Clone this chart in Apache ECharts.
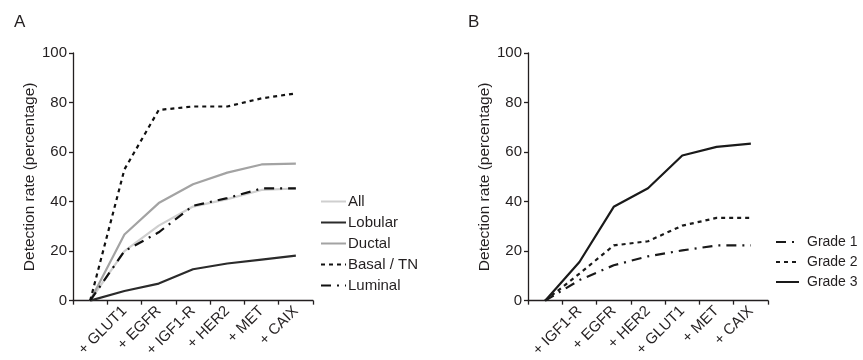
<!DOCTYPE html>
<html>
<head>
<meta charset="utf-8">
<script src="https://cdn.jsdelivr.net/npm/echarts@6/dist/echarts.min.js"></script>
<style>
  html, body { margin: 0; padding: 0; background: #fff; }
  #chart { width: 863px; height: 360px; }
</style>
</head>
<body>
<div id="chart"></div>
<script>
// panel A categories (first slot is the baseline, no label)
const catsA = ['', '+ GLUT1', '+ EGFR', '+ IGF1-R', '+ HER2', '+ MET', '+ CAIX'];
const allA = [0, 20, 30.3, 38, 41, 44.7, 45.3];
const lobularA = [0, 3.9, 6.9, 12.7, 15, 16.6, 18.2];
const ductalA = [0, 26.7, 39.4, 47, 51.7, 55, 55.3];
const basalA = [0, 53, 77, 78.4, 78.4, 81.7, 83.7];
const luminalA = [0, 20, 27.6, 38.3, 41.4, 45.3, 45.3];

// panel B
const catsB = ['', '+ IGF1-R', '+ EGFR', '+ HER2', '+ GLUT1', '+ MET', '+ CAIX'];
const grade1 = [0, 8.3, 14.3, 17.9, 20.3, 22.3, 22.3];
const grade2 = [0, 10.9, 22.3, 24, 30.3, 33.4, 33.4];
const grade3 = [0, 15.6, 37.9, 45.4, 58.6, 62.1, 63.4];

const yTicks = [0, 20, 40, 60, 80, 100];

const font = "'Liberation Sans', Arial, sans-serif";
const ink = '#231f20';

const chart = echarts.init(document.getElementById('chart'));

function xAxisFor(idx, cats) {
    return {
        type: 'category',
        gridIndex: idx,
        data: cats,
        boundaryGap: true,
        axisLine: { lineStyle: { color: ink, width: 1.3 } },
        axisTick: { show: true, length: 4, inside: false, interval: 0, lineStyle: { color: ink, width: 1.3 } },
        axisLabel: { rotate: 45, interval: 0, margin: 8, color: ink, fontSize: 15, fontFamily: font },
        splitLine: { show: false }
    };
}

function yAxisFor(idx) {
    return {
        type: 'value',
        gridIndex: idx,
        min: yTicks[0],
        max: yTicks[yTicks.length - 1],
        interval: 20,
        name: 'Detection rate (percentage)',
        nameLocation: 'middle',
        nameGap: 35,
        nameTextStyle: { color: ink, fontSize: 15.5, fontFamily: font },
        axisLine: { show: true, lineStyle: { color: ink, width: 1.3 } },
        axisTick: { show: true, length: 4, lineStyle: { color: ink, width: 1.3 } },
        axisLabel: { color: ink, fontSize: 15, fontFamily: font, margin: 6 },
        splitLine: { show: false }
    };
}

function lineSeries(name, data, idx, color, type) {
    return {
        name: name,
        type: 'line',
        xAxisIndex: idx,
        yAxisIndex: idx,
        data: data,
        symbol: 'none',
        smooth: false,
        lineStyle: { color: color, width: 2.2, type: type },
        itemStyle: { color: color },
        emphasis: { disabled: true }
    };
}

const dotted = [4, 4];
const dashDot = [10, 6, 2, 6];

const option = {
    animation: false,
    backgroundColor: '#fff',
    title: [
        { text: 'A', left: 9, top: 9, textStyle: { fontSize: 17, fontWeight: 'normal', color: ink, fontFamily: font } },
        { text: 'B', left: 463, top: 9, textStyle: { fontSize: 17, fontWeight: 'normal', color: ink, fontFamily: font } }
    ],
    grid: [
        { left: 73, top: 53, width: 240, height: 249 },
        { left: 528, top: 53, width: 240, height: 249 }
    ],
    legend: [
        {
            data: ['All', 'Lobular', 'Ductal', 'Basal / TN', 'Luminal'],
            orient: 'vertical',
            left: 315, top: 189,
            itemWidth: 25, itemHeight: 14, itemGap: 6,
            itemStyle: { opacity: 0 },
            textStyle: { color: ink, fontSize: 15, lineHeight: 14, fontFamily: font, padding: [0, 0, 0, -3] }
        },
        {
            data: ['Grade 1', 'Grade 2', 'Grade 3'],
            orient: 'vertical',
            left: 770, top: 230,
            itemWidth: 23, itemHeight: 14, itemGap: 6,
            itemStyle: { opacity: 0 },
            textStyle: { color: ink, fontSize: 14, lineHeight: 14, fontFamily: font, padding: [0, 0, 0, 3] }
        }
    ],
    xAxis: [xAxisFor(0, catsA), xAxisFor(1, catsB)],
    yAxis: [yAxisFor(0), yAxisFor(1)],
    series: [
        lineSeries('All', allA, 0, '#cfcfcf', 'solid'),
        lineSeries('Lobular', lobularA, 0, '#2b2b2b', 'solid'),
        lineSeries('Ductal', ductalA, 0, '#a3a3a3', 'solid'),
        lineSeries('Basal / TN', basalA, 0, '#111111', dotted),
        lineSeries('Luminal', luminalA, 0, '#111111', dashDot),
        lineSeries('Grade 1', grade1, 1, '#1a1a1a', dashDot),
        lineSeries('Grade 2', grade2, 1, '#1a1a1a', dotted),
        lineSeries('Grade 3', grade3, 1, '#1a1a1a', 'solid')
    ]
};

chart.setOption(option);
</script>
</body>
</html>
